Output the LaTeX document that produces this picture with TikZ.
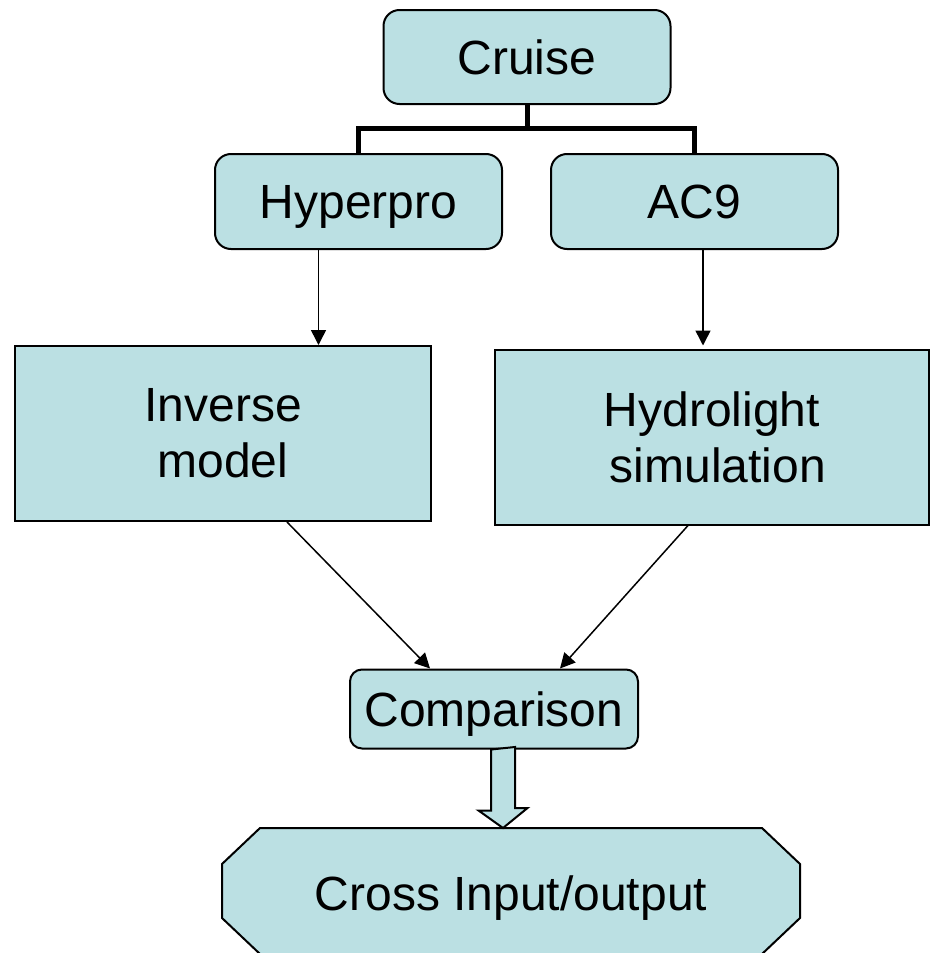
\documentclass[tikz,border=0pt]{standalone}
\usepackage{fontspec}
\setmainfont{Liberation Sans}
\usetikzlibrary{arrows.meta,calc}
\definecolor{boxfill}{HTML}{BBE0E3}
\begin{document}
\begin{tikzpicture}[
        x=1pt, y=-1pt,
        font=\fontsize{48}{56}\selectfont,
        blk/.style={draw, line width=2pt, fill=boxfill, inner sep=0pt,
            align=center},
        rblk/.style={blk, rounded corners=16pt, text height=34pt, text depth=0pt},
        bracket/.style={line width=5pt},
        arr/.style={line width=1.5pt, -{Triangle[length=15pt,width=15pt]}}
    ]
        \useasboundingbox (0, 0) rectangle (929, 953);
        \node[rblk, minimum width=287pt, minimum height=94pt] (cruise) at (527, 57) {Cruise};
        \node[rblk, minimum width=287pt, minimum height=95pt] (hyper) at (358.5, 201.5) {Hyperpro};
        \node[rblk, minimum width=287pt, minimum height=95pt] (ac9) at (694.5, 201.5) {AC9};
        \node[blk, minimum width=416pt, minimum height=175pt] (inv) at (223, 433.5) {Inverse\\model};
        \node[blk, minimum width=434pt, minimum height=175pt] (hyd) at (712, 437) {Hydrolight\\\hspace*{12pt}simulation};
        \node[rblk, rounded corners=12pt, minimum width=288pt, minimum height=79pt] (cmp) at (494, 709) {Comparison};
        % octagon behind the last node
        \coordinate (oct) at (511, 891);
        \draw[blk] ($(oct)+(-251, -63)$) -- ++(502, 0) -- ++(38, 36) -- ++(0, 54)
            -- ++(-38, 36) -- ++(-502, 0) -- ++(-38, -36) -- ++(0, -54) -- cycle;
        \node[inner sep=0pt, text height=34pt, text depth=0pt, minimum width=578pt,
            minimum height=126pt] (cross) at ($(oct)+(0, 2)$) {Cross Input/output};
        % fork from the cruise
        \coordinate (fork) at (527, 128);
        \draw[bracket] (cruise.south) -- (fork) -| ($(hyper.north)+(0, 1)$);
        \draw[bracket] (fork) -| ($(ac9.north)+(0, 1)$);
        % instruments to models
        \draw[arr] ([xshift=-40pt]hyper.south) -- ([xshift=-40pt]hyper.south |- inv.north);
        \draw[arr] ([xshift=8.5pt]ac9.south) -- ($(ac9.south |- hyd.north)+(8.5, -3)$);
        \draw[arr] ([xshift=64pt]inv.south) -- ([xshift=-64pt]cmp.north);
        \draw[arr] ([xshift=-24pt]hyd.south) -- ([xshift=66pt]cmp.north);
        % block arrow
        \draw[blk] ([xshift=-3pt]cmp.south) -- ++(0, 61) -- ++(-12.5, 0)
            -- ($(cmp.south |- oct)+(9, -63)$) -- ++(24.5, -20)
            -- ++(-12.5, 0) -- ++(0, -61) -- cycle;
    \end{tikzpicture}
\end{document}
